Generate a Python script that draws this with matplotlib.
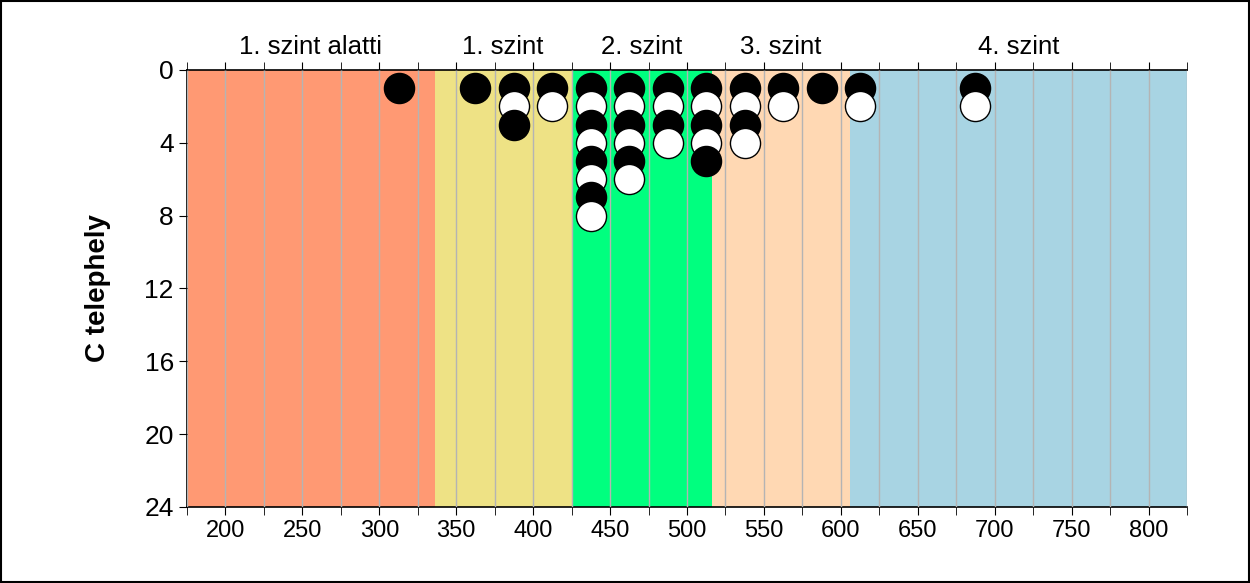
import matplotlib.pyplot as plt
from matplotlib.patches import Rectangle
from matplotlib.ticker import MultipleLocator

plt.rcParams['font.family'] = ['Liberation Sans', 'DejaVu Sans']

# score bands (levels)
band_labels = ["1. szint alatti", "1. szint", "2. szint", "3. szint", "4. szint"]
band_edges = [175, 336, 425, 516, 606, 825]
band_colors = ["#FF9973", "#EEE285", "#00FF7F", "#FFD8B3", "#A8D4E3"]

# bin centres and number of students in each bin
bin_x = [312.5, 362.5, 387.5, 412.5, 437.5, 462.5, 487.5, 512.5, 537.5, 562.5, 587.5, 612.5, 687.5]
bin_n = [1, 1, 3, 2, 8, 6, 4, 5, 4, 2, 1, 2, 2]

fig = plt.figure(figsize=(12.5, 5.83), dpi=100)
ax = fig.add_axes([0.1496, 0.1304, 0.8, 0.7496])

for i, lab in enumerate(band_labels):
    lo, hi = band_edges[i], band_edges[i + 1]
    ax.axvspan(lo, hi, color=band_colors[i], zorder=0, lw=0)
    ax.text((lo + hi) / 2, 1.025, lab, transform=ax.get_xaxis_transform(),
            ha='center', va='bottom', fontsize=18.5)

ax.grid(True, axis='x', which='both', color='#B4B4B4', lw=1, zorder=0.5)
ax.set_axisbelow(False)

for k in range(1, max(bin_n) + 1):
    xs = [x for x, n in zip(bin_x, bin_n) if n >= k]
    fc = 'black' if k % 2 == 1 else 'white'
    ax.scatter(xs, [k] * len(xs), s=470, c=fc, edgecolors='black', linewidths=1, zorder=2 + k)

ax.set_xlim(175, 825)
ax.set_ylim(24, 0)
ax.xaxis.set_major_locator(MultipleLocator(50))
ax.xaxis.set_minor_locator(MultipleLocator(25))
ax.set_yticks(range(0, 25, 4))
ax.tick_params(axis='x', which='both', top=True, direction='out', length=6, labelsize=17)
ax.tick_params(axis='y', direction='out', length=6, labelsize=19)
ax.spines['right'].set_visible(False)
for s in ['left', 'top', 'bottom']:
    ax.spines[s].set_linewidth(1.2)
ax.set_ylabel("C telephely", fontsize=20, fontweight='bold', labelpad=24)

fig.patches.append(Rectangle((0.001, 0.002), 0.998, 0.996, transform=fig.transFigure,
                             fill=False, edgecolor='black', lw=1.5))

fig.savefig("out.png", dpi=100)
